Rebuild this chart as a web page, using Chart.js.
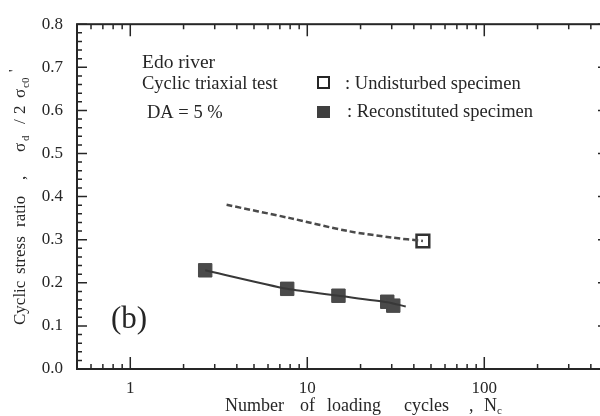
<!DOCTYPE html>
<html>
<head>
<meta charset="utf-8">
<script src="https://cdn.jsdelivr.net/npm/chart.js@4/dist/chart.umd.min.js"></script>
<style>
  html, body { margin: 0; padding: 0; background: #fff; }
  #wrap { width: 600px; height: 416px; overflow: hidden; position: relative; }
  canvas { display: block; }
</style>
</head>
<body>
<div id="wrap"><canvas id="myCanvas" width="620" height="416"></canvas></div>
<script>
// reconstituted specimens (filled squares)
const reconN = [2.65, 7.7, 15.0, 28.3, 30.6];
const reconRatio = [0.229, 0.186, 0.170, 0.156, 0.147];
// fitted line through the reconstituted results
const reconLineN = [2.65, 7.7, 15.0, 28.3, 36];
const reconLineRatio = [0.229, 0.186, 0.170, 0.155, 0.145];
// undisturbed specimen (open square) and its dashed trend
const undistN = [45];
const undistRatio = [0.297];
const undistLineN = [3.5, 8, 17, 30, 45];
const undistLineRatio = [0.381, 0.350, 0.320, 0.305, 0.297];

const xTickValues = [1, 10, 100];
const yTickStep = 0.1;

const ink = "#262626";
const serif = "'Liberation Serif', 'Times New Roman', serif";
Chart.defaults.font.family = serif;
Chart.defaults.color = ink;

const pts = (xs, ys) => xs.map((x, i) => ({ x: x, y: ys[i] }));

// frame, inward ticks, axis titles, annotations
const decor = {
    id: "decor",
    afterDraw(chart) {
        const ctx = chart.ctx;
        const a = chart.chartArea;
        const xs = chart.scales.x, ys = chart.scales.y;
        ctx.save();
        ctx.strokeStyle = ink;
        ctx.lineWidth = 2;
        ctx.strokeRect(a.left, a.top, a.right - a.left, a.bottom - a.top);

        ctx.lineWidth = 1.5;
        ctx.beginPath();
        // x ticks (bottom up, top down)
        for (let d = 0.1; d <= 1000; d *= 10) {
            for (let k = 1; k <= 9; k++) {
                const v = k * d;
                if (v < xs.min * 0.999 || v > xs.max * 1.001) continue;
                const px = xs.getPixelForValue(v);
                const len = k === 1 ? 12 : 5;
                ctx.moveTo(px, a.bottom); ctx.lineTo(px, a.bottom - len);
                ctx.moveTo(px, a.top); ctx.lineTo(px, a.top + len);
            }
        }
        // y ticks (left right, right left)
        for (let i = 0; i <= 40; i++) {
            const v = i * 0.02;
            const py = ys.getPixelForValue(v);
            const len = i % 5 === 0 ? 10 : 5;
            ctx.moveTo(a.left, py); ctx.lineTo(a.left + len, py);
            ctx.moveTo(a.right, py); ctx.lineTo(a.right - len, py);
        }
        ctx.stroke();

        ctx.fillStyle = ink;
        ctx.textBaseline = "alphabetic";
        ctx.textAlign = "left";

        // x title
        ctx.font = "18px " + serif;
        [["Number", 225], ["of", 300], ["loading", 327], ["cycles", 404], [",", 469], ["N", 484]]
            .forEach(([t, x]) => ctx.fillText(t, x, 411));
        ctx.font = "11px " + serif;
        ctx.fillText("c", 497, 414);

        // y title (rotated)
        ctx.save();
        ctx.translate(25, 0);
        ctx.rotate(-Math.PI / 2);
        ctx.font = "17px " + serif;
        [["Cyclic", 325], ["stress", 274], ["ratio", 227], [",", 180], ["\u03c3", 152], ["/", 124], ["2", 114], ["\u03c3", 98]]
            .forEach(([t, y]) => ctx.fillText(t, -y, 0));
        ctx.font = "11px " + serif;
        ctx.fillText("d", -141, 4);
        ctx.fillText("c0", -88, 4);
        ctx.font = "14px " + serif;
        ctx.fillText("'", -72, -6);
        ctx.restore();

        // annotations
        ctx.font = "19.5px " + serif;
        ctx.fillText("Edo river", 142, 68);
        ctx.font = "18.5px " + serif;
        ctx.fillText("Cyclic triaxial test", 142, 89);
        ctx.fillText("DA = 5 %", 147, 118);
        ctx.fillText(": Undisturbed specimen", 345, 89);
        ctx.fillText(": Reconstituted specimen", 347, 117);
        ctx.font = "31px " + serif;
        ctx.fillText("(b)", 111, 328);

        // legend keys
        ctx.lineWidth = 2;
        ctx.strokeRect(318, 77, 11, 11);
        ctx.fillStyle = "#3f3f3f";
        ctx.fillRect(317, 106, 13, 12);
        ctx.restore();
    }
};

new Chart(document.getElementById("myCanvas"), {
    type: "scatter",
    data: {
        datasets: [
            {
                label: "Reconstituted trend",
                data: pts(reconLineN, reconLineRatio),
                showLine: true,
                borderColor: "#383838",
                borderWidth: 2,
                pointRadius: 0,
                tension: 0.2,
            },
            {
                label: "Undisturbed trend",
                data: pts(undistLineN, undistLineRatio),
                showLine: true,
                borderColor: "#4a4a4a",
                borderWidth: 2.5,
                borderDash: [6, 3],
                pointRadius: 0,
                tension: 0.3,
            },
            {
                label: "Reconstituted specimen",
                data: pts(reconN, reconRatio),
                pointStyle: "rect",
                pointRadius: 9.5,
                backgroundColor: "#4a4a4a",
                borderColor: "#4a4a4a",
                borderWidth: 1,
            },
            {
                label: "Undisturbed specimen",
                data: pts(undistN, undistRatio),
                pointStyle: "rect",
                pointRadius: 9,
                backgroundColor: "#fff",
                borderColor: "#333",
                borderWidth: 2.5,
            },
        ],
    },
    options: {
        responsive: false,
        animation: false,
        layout: { padding: { left: 0, top: 16, right: 12, bottom: 0 } },
        plugins: { legend: false, tooltip: { enabled: false } },
        scales: {
            x: {
                type: "logarithmic",
                min: 0.5,
                max: 500,
                grid: { display: false, drawTicks: false },
                border: { display: false },
                afterBuildTicks: (s) => { s.ticks = xTickValues.map((v) => ({ value: v })); },
                afterFit: (s) => { s.height = 47; },
                ticks: {
                    autoSkip: false,
                    maxRotation: 0,
                    padding: 9,
                    font: { size: 17 },
                    color: ink,
                    callback: (v) => String(v),
                },
            },
            y: {
                min: 0,
                max: 0.8,
                grid: { display: false, drawTicks: false },
                border: { display: false },
                afterFit: (s) => { s.width = 77; },
                ticks: {
                    stepSize: yTickStep,
                    padding: 14,
                    font: { size: 17 },
                    color: ink,
                    callback: (v) => v.toFixed(1),
                },
            },
        },
    },
    plugins: [decor],
});
</script>
</body>
</html>
